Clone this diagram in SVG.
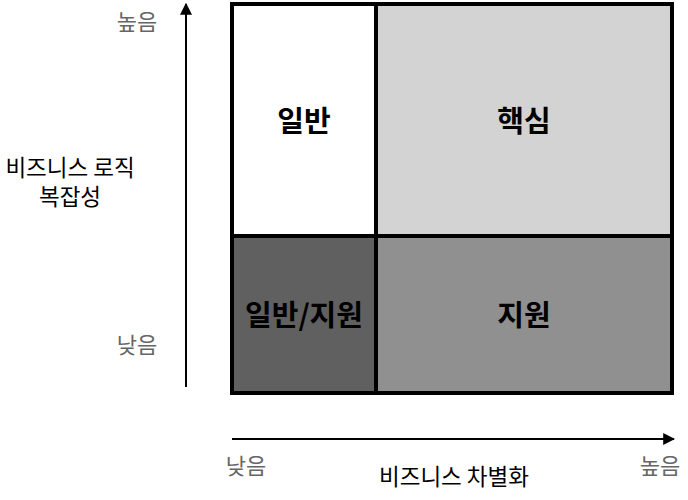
<svg xmlns="http://www.w3.org/2000/svg" width="688" height="500" viewBox="0 0 688 500">
<style>
.cell{stroke:#000;stroke-width:4}
.lbl{font-family:"Noto Sans CJK KR","Noto Sans",sans-serif;font-size:29px;font-weight:bold;fill:#000;text-anchor:middle;dominant-baseline:central}
.tick{font-family:"Noto Sans CJK KR","Noto Sans",sans-serif;font-size:22px;fill:#666;text-anchor:middle;dominant-baseline:central}
.axis{font-family:"Noto Sans CJK KR","Noto Sans",sans-serif;font-size:22.5px;fill:#000;text-anchor:middle;dominant-baseline:central}
.ax{stroke:#000;stroke-width:2;fill:none}
</style>
<defs>
<marker id="ah" viewBox="0 0 10 10" refX="9" refY="5" markerWidth="6" markerHeight="6" markerUnits="strokeWidth" orient="auto">
<path d="M0,0 L10,5 L0,10 z" fill="#000"/>
</marker>
</defs>
<g id="connectors">
<line class="ax" x1="186" y1="387" x2="186" y2="4" marker-end="url(#ah)"/>
<line class="ax" x1="232" y1="439" x2="674" y2="439" marker-end="url(#ah)"/>
</g>
<g id="general">
<rect class="cell" x="232" y="4" width="144" height="232" fill="#ffffff"/>
<text class="lbl" x="304" y="119">일반</text>
</g>
<g id="core">
<rect class="cell" x="376" y="4" width="296" height="232" fill="#d3d3d3"/>
<text class="lbl" x="524" y="119">핵심</text>
</g>
<g id="general-support">
<rect class="cell" x="232" y="236" width="144" height="157" fill="#606060"/>
<text class="lbl" x="304" y="313">일반/지원</text>
</g>
<g id="support">
<rect class="cell" x="376" y="236" width="296" height="157" fill="#909090"/>
<text class="lbl" x="524" y="313">지원</text>
</g>
<g id="labels">
<text class="tick" x="137" y="20">높음</text>
<text class="tick" x="137" y="343">낮음</text>
<text class="axis" x="70" y="166">비즈니스 로직</text>
<text class="axis" x="70" y="195">복잡성</text>
<text class="tick" x="246" y="464">낮음</text>
<text class="tick" x="660" y="464">높음</text>
<text class="axis" x="454" y="475">비즈니스 차별화</text>
</g>
</svg>
